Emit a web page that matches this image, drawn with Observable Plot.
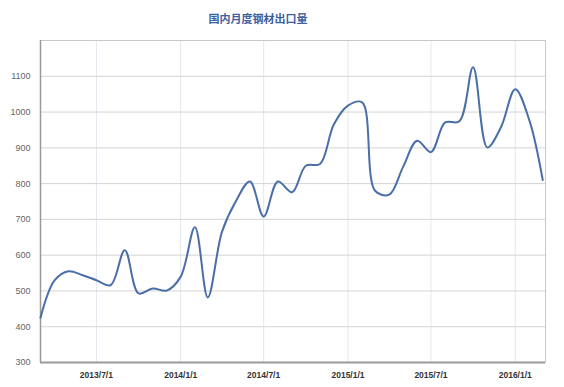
<!DOCTYPE html>
<html>
<head>
<meta charset="utf-8">
<script src="https://cdn.jsdelivr.net/npm/d3@7"></script>
<script src="https://cdn.jsdelivr.net/npm/@observablehq/plot@0.6"></script>
<style>
  body { margin: 0; background: #fff; }
  #wrap { position: relative; width: 564px; }
  #title { height: 30px; position: relative; }
  #title span { position: absolute; left: 258px; top: 10px; transform: translateX(-50%);
    font-family: "Noto Sans CJK SC", sans-serif; font-size: 11px; font-weight: bold; color: #3d5f9e; white-space: nowrap; line-height: 16px; }
</style>
</head>
<body>
<div id="wrap">
  <div id="title"><span>国内月度钢材出口量</span></div>
  <div id="chart"></div>
</div>
<script>
const months = [
  "2013-03-01","2013-04-01","2013-05-01","2013-06-01","2013-07-01","2013-08-01","2013-09-01","2013-10-01","2013-11-01","2013-12-01",
  "2014-01-01","2014-02-01","2014-03-01","2014-04-01","2014-05-01","2014-06-01","2014-07-01","2014-08-01","2014-09-01","2014-10-01","2014-11-01","2014-12-01",
  "2015-01-01","2015-02-01","2015-03-01","2015-04-01","2015-05-01","2015-06-01","2015-07-01","2015-08-01","2015-09-01","2015-10-01","2015-11-01","2015-12-01",
  "2016-01-01","2016-02-01","2016-03-01"
];
const exportsVol = [
  425, 530, 555, 544, 530, 516, 614, 493, 507, 501,
  540, 678, 482, 665, 750, 806, 708, 806, 776, 850, 855, 965,
  1018, 1027, 780, 769, 846, 920, 888, 971, 974, 1125, 901, 958,
  1064, 976, 810
];
const xTicks = ["2013-07-01","2014-01-01","2014-07-01","2015-01-01","2015-07-01","2016-01-01"];
const xTickLabels = ["2013/7/1","2014/1/1","2014/7/1","2015/1/1","2015/7/1","2016/1/1"];
const yTicks = [300, 400, 500, 600, 700, 800, 900, 1000, 1100];

const data = months.map((m, i) => ({date: new Date(m + "T00:00:00"), value: exportsVol[i]}));
const tickDates = xTicks.map(d => new Date(d + "T00:00:00"));
const labelOf = new Map(tickDates.map((d, i) => [+d, xTickLabels[i]]));

const chart = Plot.plot({
  width: 564,
  height: 357,
  marginLeft: 40,
  marginRight: 19,
  marginTop: 10,
  marginBottom: 25,
  style: {fontFamily: "Arial, 'Liberation Sans', sans-serif", background: "#fff"},
  x: {type: "time", domain: [new Date("2013-03-01T00:00:00"), new Date("2016-03-07T00:00:00")]},
  y: {domain: [300, 1200]},
  marks: [
    Plot.gridX(tickDates, {stroke: "#e3e7ef", strokeOpacity: 1, strokeWidth: 1}),
    Plot.gridY(yTicks.slice(1), {stroke: "#d4d4d4", strokeOpacity: 1, strokeWidth: 1}),
    Plot.frame({stroke: "#c8c8c8", strokeWidth: 1}),
    Plot.axisY(yTicks, {tickSize: 0, tickPadding: 10, fontSize: 9, fill: "#666", label: null, tickFormat: d => String(d)}),
    Plot.axisX(tickDates, {tickSize: 0, tickPadding: 9, fontSize: 8.5, fontWeight: "bold", fill: "#333", label: null, tickFormat: d => labelOf.get(+d)}),
    Plot.ruleX([new Date("2013-03-01T00:00:00")], {stroke: "#999", strokeWidth: 1.5}),
    Plot.ruleY([300], {stroke: "#999", strokeWidth: 2}),
    Plot.line(data, {x: "date", y: "value", curve: "catmull-rom", stroke: "#4a6fa8", strokeWidth: 2})
  ]
});
document.getElementById("chart").appendChild(chart);
</script>
</body>
</html>
